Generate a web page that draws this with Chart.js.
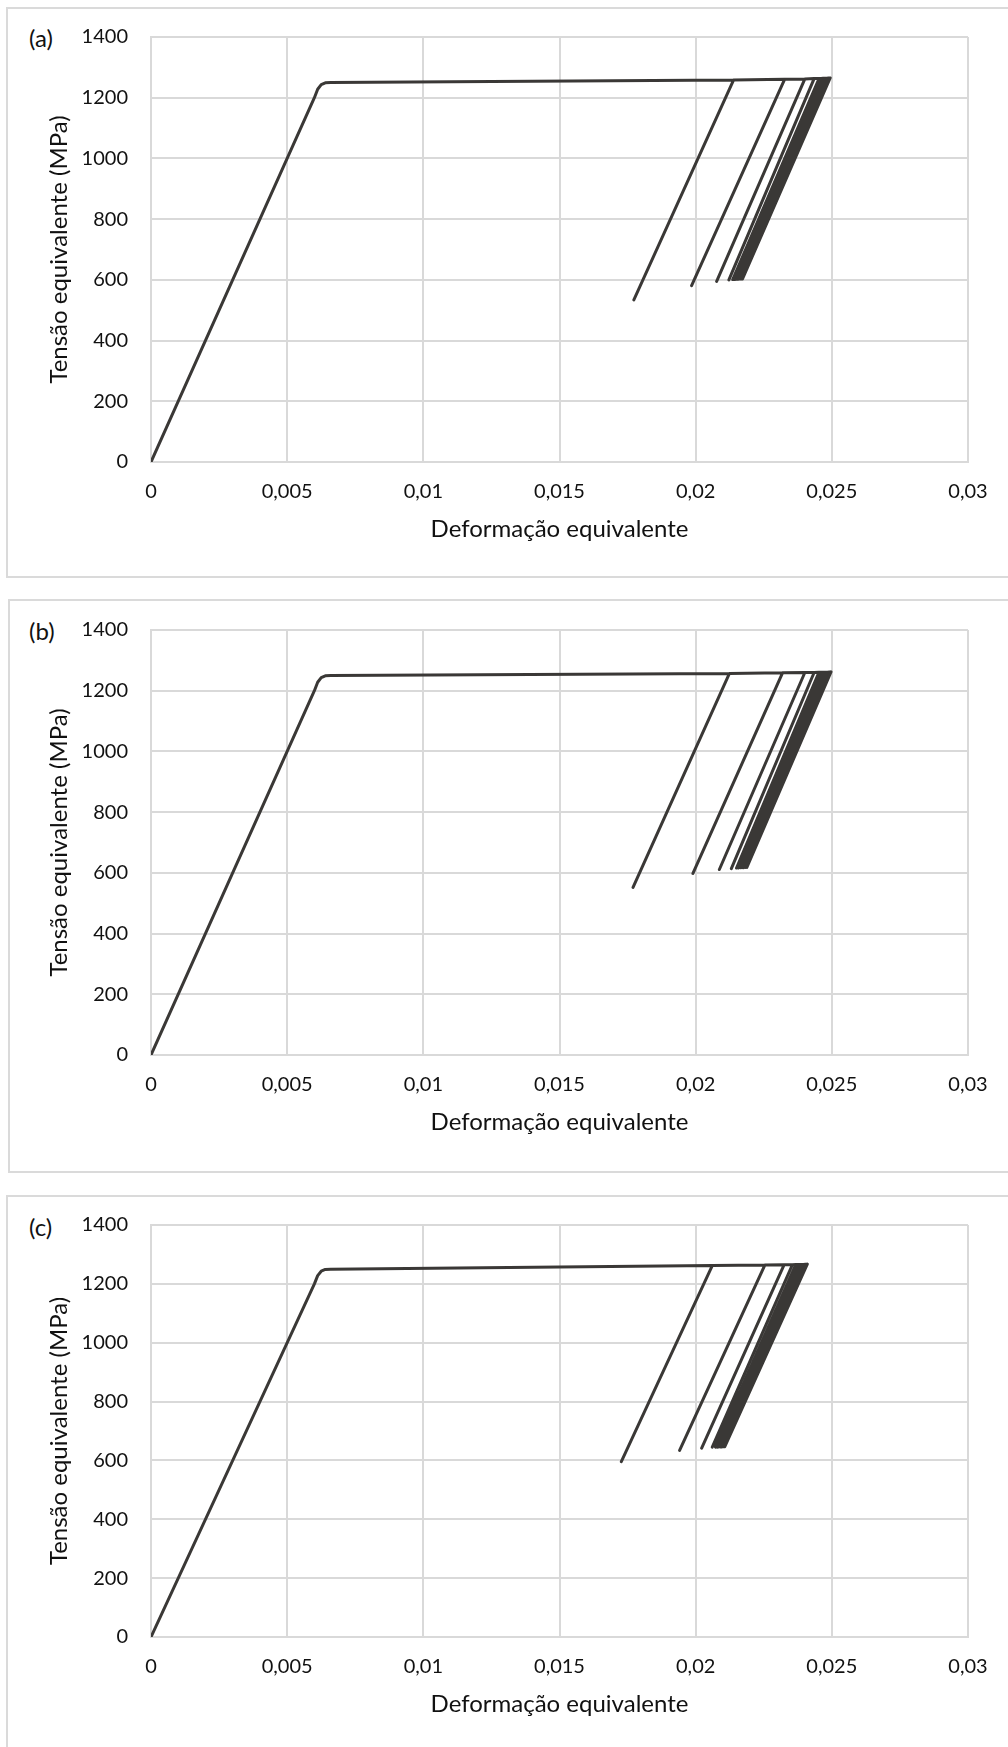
<!DOCTYPE html>
<html>
<head>
<meta charset="utf-8">
<script src="https://cdn.jsdelivr.net/npm/chart.js@4.4.1/dist/chart.umd.min.js"></script>
<style>
body { margin:0; background:#fff; width:1008px; height:1747px; overflow:hidden; position:relative; font-family: Lato, sans-serif; }
.box { position:absolute; border:2px solid #dadada; box-sizing:border-box; width:1012px; }
.lbl { position:absolute; left:29px; font-size:24px; line-height:28px; color:#111; }
canvas { position:absolute; left:0; }
</style>
</head>
<body>
<div class="box" style="left:6px;top:7px;height:571px"></div>
<div class="box" style="left:8px;top:599px;height:574px"></div>
<div class="box" style="left:6px;top:1195px;height:600px"></div>

<div class="lbl" style="top:24px">(a)</div>
<div class="lbl" style="top:617px">(b)</div>
<div class="lbl" style="top:1213px">(c)</div>

<canvas id="graficaA" width="1008" height="562" style="top:0px"></canvas>
<canvas id="graficaB" width="1008" height="562" style="top:593px"></canvas>
<canvas id="graficaC" width="1008" height="549" style="top:1188px"></canvas>

<script>
const xTickLabels = ['0', '0,005', '0,01', '0,015', '0,02', '0,025', '0,03']
const yTickLabels = ['0', '200', '400', '600', '800', '1000', '1200', '1400']

// carregamento elastico inicial + joelho (igual nos tres casos)
const kneeStrain = [0, 0.0060, 0.00612, 0.00625, 0.0064, 0.0066]
const kneeStress = [0, 1200, 1228, 1243, 1249, 1250]

// (a)
const topStrainA = [0.02139, 0.02327, 0.02401, 0.02435, 0.02453, 0.02461, 0.02468, 0.02475, 0.02482, 0.02488, 0.02494]
const topStressA = [1258, 1261, 1262, 1263, 1263, 1263, 1264, 1264, 1264, 1265, 1265]
const lowStrainA = [0.01773, 0.01985, 0.02077, 0.02122, 0.02136, 0.02143, 0.02150, 0.02156, 0.02162, 0.02167, 0.02172]
const lowStressA = [534, 581, 595, 600, 601, 601, 602, 602, 603, 603, 603]

// (b)
const topStrainB = [0.02124, 0.02319, 0.02401, 0.02435, 0.02453, 0.02461, 0.02469, 0.02476, 0.02484, 0.02491, 0.02497]
const topStressB = [1257, 1259, 1260, 1260, 1261, 1261, 1261, 1261, 1261, 1262, 1262]
const lowStrainB = [0.01770, 0.01990, 0.02087, 0.02131, 0.02150, 0.02157, 0.02164, 0.02170, 0.02176, 0.02182, 0.02188]
const lowStressB = [552, 598, 611, 614, 616, 616, 617, 617, 617, 618, 618]

// (c)
const topStrainC = [0.02061, 0.02254, 0.02325, 0.02355, 0.02368, 0.02375, 0.02382, 0.02389, 0.02396, 0.02403, 0.02410]
const topStressC = [1262, 1264, 1265, 1265, 1266, 1266, 1266, 1266, 1266, 1267, 1267]
const lowStrainC = [0.01727, 0.01941, 0.02022, 0.02061, 0.02073, 0.02079, 0.02085, 0.02091, 0.02096, 0.02102, 0.02107]
const lowStressC = [596, 634, 642, 645, 645, 645, 646, 646, 646, 647, 647]

function montarCurva(topE, topS, lowE, lowS) {
    const pts = []
    for (let i = 0; i < kneeStrain.length; i++) {
        pts.push({ x: kneeStrain[i], y: kneeStress[i] })
    }
    for (let i = 0; i < topE.length; i++) {
        pts.push({ x: topE[i], y: topS[i] })
        pts.push({ x: lowE[i], y: lowS[i] })
        pts.push({ x: topE[i], y: topS[i] })
    }
    return pts
}

const corGrade = '#d9d9d9'
const corTexto = '#111'

function pintarGrafico(id, dados) {
    const config = {
        type: 'scatter',
        data: {
            datasets: [{
                data: dados,
                showLine: true,
                borderColor: '#3a3836',
                borderWidth: 3,
                pointRadius: 0,
                tension: 0,
                borderJoinStyle: 'round',
                borderCapStyle: 'round'
            }]
        },
        options: {
            responsive: false,
            animation: false,
            devicePixelRatio: 1,
            layout: { padding: { left: 0, right: 40, top: 37, bottom: 0 } },
            plugins: { legend: { display: false }, tooltip: { enabled: false } },
            scales: {
                x: {
                    type: 'linear',
                    min: 0,
                    max: 0.03,
                    afterFit: s => { s.height = 100 },
                    grid: { color: corGrade, lineWidth: 2, drawTicks: false },
                    border: { color: corGrade, width: 2 },
                    ticks: {
                        stepSize: 0.005,
                        autoSkip: false,
                        maxRotation: 0,
                        padding: 18,
                        color: corTexto,
                        font: { family: 'Lato', size: 20 },
                        callback: (v, i) => xTickLabels[i]
                    },
                    title: {
                        display: true,
                        text: 'Deformação equivalente',
                        color: corTexto,
                        font: { family: 'Lato', size: 24 },
                        padding: { top: 0, bottom: 18 }
                    }
                },
                y: {
                    min: 0,
                    max: 1400,
                    afterFit: s => { s.width = 151 },
                    grid: { color: corGrade, lineWidth: 2, drawTicks: false },
                    border: { color: corGrade, width: 2 },
                    ticks: {
                        stepSize: 200,
                        padding: 23,
                        color: corTexto,
                        font: { family: 'Lato', size: 20 },
                        callback: (v, i) => yTickLabels[i]
                    },
                    title: {
                        display: true,
                        text: 'Tensão equivalente (MPa)',
                        color: corTexto,
                        font: { family: 'Lato', size: 24 },
                        padding: { top: 45, bottom: 0 }
                    }
                }
            }
        }
    }
    return new Chart(document.getElementById(id), config)
}

pintarGrafico('graficaA', montarCurva(topStrainA, topStressA, lowStrainA, lowStressA))
pintarGrafico('graficaB', montarCurva(topStrainB, topStressB, lowStrainB, lowStressB))
pintarGrafico('graficaC', montarCurva(topStrainC, topStressC, lowStrainC, lowStressC))
</script>
</body>
</html>
